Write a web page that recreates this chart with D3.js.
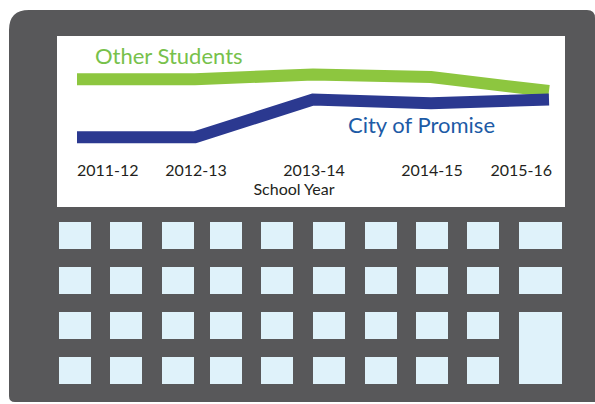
<!DOCTYPE html>
<html>
<head>
<meta charset="utf-8">
<script src="https://cdn.jsdelivr.net/npm/d3@7"></script>
<style>
  body { margin: 0; background: #fff; }
  svg { display: block; }
</style>
</head>
<body>
<script>
// data (no y axis shown, values estimated)
const years = ["2011-12", "2012-13", "2013-14", "2014-15", "2015-16"];
const otherStudents = [83.1, 83.1, 84.4, 83.7, 79.7];
const cityOfPromise = [66.5, 66.5, 77.3, 76.2, 77.3];
const seriesNames = ["Other Students", "City of Promise"];
const axisTitle = "School Year";
// keypad layout: columns x rows, last column has a tall key
const keyCols = [0, 1, 2, 3, 4, 5, 6, 7, 8, 9];
const keyRows = [0, 1, 2, 3];

const W = 595, H = 404;
const gray = "#58585a";
const keyFill = "#dff2fa";

const svg = d3.select("body").append("svg")
    .attr("width", W)
    .attr("height", H);

// calculator body
const bx = 9, by = 10, bx2 = 605, by2 = 402;
const rTL = 20, rTR = 8, rBL = 6;
const bodyPath = d3.path();
bodyPath.moveTo(bx + rTL, by);
bodyPath.lineTo(bx2 - rTR - 10, by);
bodyPath.quadraticCurveTo(bx2 - 10, by, bx2 - 10, by + rTR);
bodyPath.lineTo(bx2, by2);
bodyPath.lineTo(bx + rBL, by2);
bodyPath.quadraticCurveTo(bx, by2, bx, by2 - rBL);
bodyPath.lineTo(bx, by + rTL);
bodyPath.quadraticCurveTo(bx, by, bx + rTL, by);
bodyPath.closePath();
svg.append("path").attr("d", bodyPath.toString()).attr("fill", gray);

// screen
const screen = {x: 57, y: 36, w: 508, h: 171};
svg.append("rect")
    .attr("x", screen.x).attr("y", screen.y)
    .attr("width", screen.w).attr("height", screen.h)
    .attr("fill", "#fff");

// keys
const colX = [59, 110, 162, 210, 261, 313, 365, 416, 467, 519];
const rowY = [222, 267, 312, 357];
const keys = svg.append("g");
keyRows.forEach(r => {
    keyCols.forEach(c => {
        if (c === 9 && r === 3) return; // covered by tall key
        const tall = (c === 9 && r === 2);
        keys.append("rect")
            .attr("x", colX[c])
            .attr("y", rowY[r])
            .attr("width", c === 9 ? 43 : 32)
            .attr("height", tall ? 27 + 45 : 27)
            .attr("fill", keyFill);
    });
});

// chart inside the screen
const x = d3.scalePoint()
    .domain(years)
    .range([77, 549]);

const y = d3.scaleLinear()
    .domain([60, 90])
    .range([160, 55]);

const line = d3.line()
    .x((d, i) => x(years[i]))
    .y(d => y(d));

svg.append("path")
    .datum(otherStudents)
    .attr("d", line)
    .attr("fill", "none")
    .attr("stroke", "#8dc63f")
    .attr("stroke-width", 12)
    .attr("stroke-linejoin", "miter");

svg.append("path")
    .datum(cityOfPromise)
    .attr("d", line)
    .attr("fill", "none")
    .attr("stroke", "#2b3990")
    .attr("stroke-width", 12)
    .attr("stroke-linejoin", "miter");

// series labels
svg.append("text")
    .attr("x", 95).attr("y", 64)
    .attr("font-family", "Lato, 'Open Sans', sans-serif")
    .attr("font-size", "22px")
    .attr("fill", "#77c14b")
    .text(seriesNames[0]);

svg.append("text")
    .attr("x", 348).attr("y", 132.5)
    .attr("font-family", "Lato, 'Open Sans', sans-serif")
    .attr("font-size", "22px")
    .attr("fill", "#1d5ba6")
    .text(seriesNames[1]);

// x labels (no axis line)
svg.append("g")
    .selectAll("text")
    .data(years)
    .join("text")
    .attr("x", (d, i) => i === 0 ? x(d) : i === years.length - 1 ? x(d) + 3 : x(d) + 1)
    .attr("y", 175.5)
    .attr("text-anchor", (d, i) => i === 0 ? "start" : i === years.length - 1 ? "end" : "middle")
    .attr("font-family", "Lato, sans-serif")
    .attr("font-size", "16px")
    .attr("fill", "#231f20")
    .text(d => d);

svg.append("text")
    .attr("x", 294).attr("y", 195)
    .attr("text-anchor", "middle")
    .attr("font-family", "Lato, sans-serif")
    .attr("font-size", "16px")
    .attr("fill", "#231f20")
    .text(axisTitle);
</script>
</body>
</html>
